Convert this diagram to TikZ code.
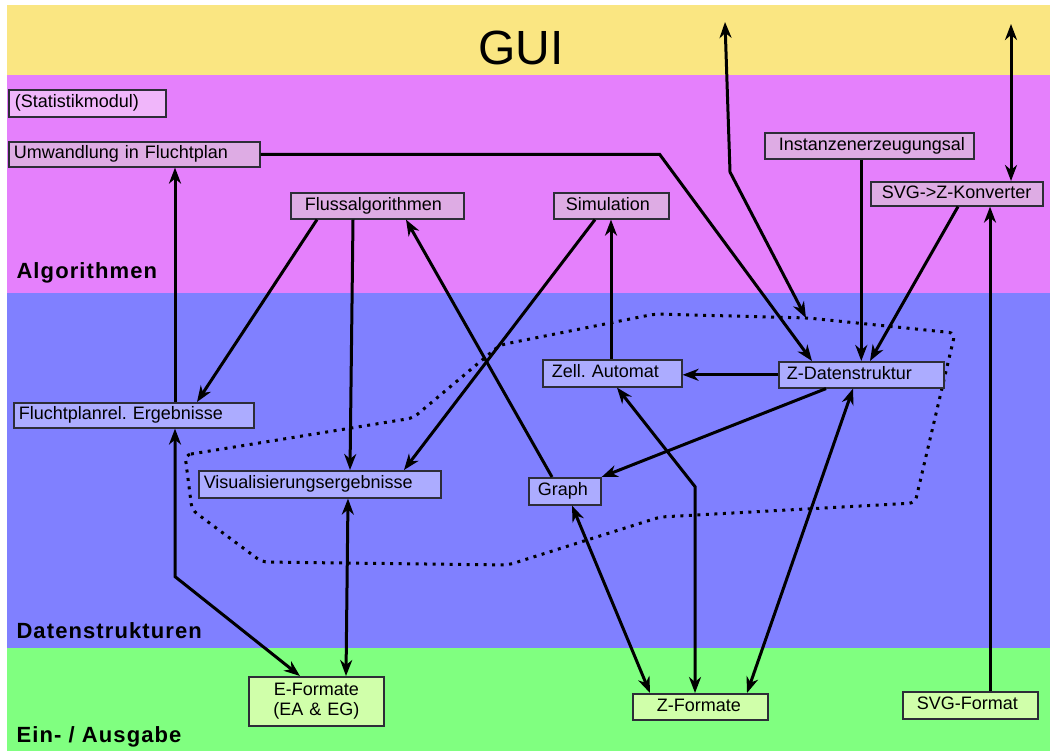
\documentclass[tikz,border=0pt]{standalone}
\usepackage{fontspec}
\setmainfont{Liberation Sans}
\usepackage{tikz}
\usetikzlibrary{arrows.meta}
\frenchspacing

\definecolor{guiyellow}{RGB}{250,230,130}
\definecolor{algpink}{RGB}{229,128,252}
\definecolor{dsblue}{RGB}{128,128,255}
\definecolor{iogreen}{RGB}{128,255,128}
\definecolor{pinkfill}{RGB}{222,172,228}
\definecolor{statfill}{RGB}{240,182,250}
\definecolor{bluefill}{RGB}{172,172,255}
\definecolor{greenfill}{RGB}{208,255,170}
\definecolor{boxline}{RGB}{45,45,55}

\begin{document}
\begin{tikzpicture}[x=1pt,y=-1pt,>={Stealth[length=16pt,width=12pt,inset=5pt]},
  box/.style={draw=boxline,line width=1.6pt,anchor=north west,inner ysep=0pt,
    font=\fontsize{18}{20}\selectfont},
  sline/.style={align=left,text height=13pt,text depth=4pt},
  pbox/.style={box,sline,fill=pinkfill},
  bbox/.style={box,sline,fill=bluefill},
  gbox/.style={box,sline,fill=greenfill},
  conn/.style={line width=3pt},
  layer/.style={font=\fontsize{22}{24}\selectfont\bfseries\addfontfeatures{LetterSpace=5},anchor=west},
  region/.style={line width=3pt,dash pattern=on 3pt off 5.5pt,rounded corners=6pt}]
  \useasboundingbox (0,0) rectangle (1054,751);
  \fill[white] (0,0) rectangle (1054,751);
  % layers
  \fill[guiyellow] (7,5) rectangle (1050,75);
  \fill[algpink] (7,75) rectangle (1050,293);
  \fill[dsblue] (7,293) rectangle (1050,648);
  \fill[iogreen] (7,648) rectangle (1050,751);
  \node[font=\fontsize{48}{50}\selectfont] (gui) at (521,48) {GUI};
  \node[layer] (alg) at (13,273) {Algorithmen};
  \node[layer] (dat) at (13,631) {Datenstrukturen};
  \node[layer] (eio) at (13,737) {Ein- / Ausgabe};
  % data structure region
  \draw[region] (185,455) -- (413,418) -- (500,345) -- (655,314) -- (808,318) -- (955,333)
    -- (915,503) -- (660,517) -- (508,565) -- (262,562) -- (192,510) -- cycle;
  % boxes
  \node[pbox,fill=statfill,text width=145pt,inner xsep=6pt,minimum height=27pt] (stat) at (8,89) {(Statistikmodul)};
  \node[pbox,text width=241pt,inner xsep=5pt,minimum height=25pt] (umw) at (8,141) {Umwandlung in Fluchtplan};
  \node[pbox,text width=145pt,inner xsep=14pt,minimum height=26pt] (fluss) at (290,192) {Flussalgorithmen};
  \node[pbox,text width=91pt,inner xsep=12pt,minimum height=26pt] (sim) at (553,192) {Simulation};
  \node[pbox,text width=181pt,inner xsep=14pt,minimum height=26pt] (inst) at (764,132) {Instanzenerzeugungsal};
  \node[pbox,text width=150pt,inner xsep=11pt,minimum height=24pt] (svgk) at (870,181) {\mbox{SVG->Z-Konverter}};
  \node[bbox,text width=230pt,inner xsep=5pt,minimum height=25pt] (fre) at (13,402) {Fluchtplanrel. Ergebnisse};
  \node[bbox,text width=232pt,inner xsep=5pt,minimum height=27pt] (vis) at (198,470) {Visualisierungsergebnisse};
  \node[bbox,text width=121pt,inner xsep=9pt,minimum height=27pt] (zell) at (542,359) {Zell. Automat};
  \node[bbox,text width=149pt,inner xsep=8pt,minimum height=26pt] (zdat) at (778,361) {Z-Datenstruktur};
  \node[bbox,text width=54pt,inner xsep=9pt,minimum height=27pt] (graph) at (528,477) {Graph};
  \node[box,fill=greenfill,align=center,text width=123pt,inner xsep=6pt,minimum height=49pt] (efmt) at (248,676) {E-Formate\\(EA \& EG)};
  \node[gbox,text width=87pt,inner xsep=24pt,minimum height=26pt] (zfmt) at (632,693) {Z-Formate};
  \node[gbox,text width=107pt,inner xsep=14pt,minimum height=27pt] (svgf) at (902,691) {SVG-Format};
  % connectors
  \coordinate (guiup) at (725,22);
  \coordinate (knick) at (730,172);
  \coordinate (dsin) at (806,318);
  \coordinate (guisvg) at (1011,24);
  \draw[conn,<->] (guiup) -- (knick) -- (dsin);
  \draw[conn,<->] (guisvg) -- (guisvg |- svgk.north);
  \draw[conn,->] (umw.east) -- ++(399,0) -- ([xshift=34pt]zdat.north west);
  \draw[conn,->] (inst.south -| zdat.north) -- (zdat.north);
  \draw[conn,->] ([xshift=88pt]svgk.south west) -- ([xshift=92pt]zdat.north west);
  \draw[conn,->] ([xshift=88pt]svgf.north west) -- ([xshift=88pt]svgf.north west |- svgk.south);
  \draw[conn,->] ([xshift=27pt]fluss.south west) -- ([xshift=184pt]fre.north west);
  \draw[conn,->] ([xshift=63pt]fluss.south west) -- ([xshift=152pt]vis.north west);
  \draw[conn,->] ([xshift=24pt]graph.north west) -- ([xshift=116pt]fluss.south west);
  \draw[conn,->] ([xshift=42pt]sim.south west) -- ([xshift=206pt]vis.north west);
  \draw[conn,->] ([xshift=69pt]zell.north west) -- ([xshift=69pt]zell.north west |- sim.south);
  \draw[conn,->] (zdat.west) -- (zdat.west -| zell.east);
  \draw[conn,->] ([xshift=48pt]zdat.south west) -- (graph.north east);
  \draw[conn,->] ([xshift=162pt]fre.north west) -- ([xshift=162pt]fre.north west |- umw.south);
  \draw[conn,<->] ([xshift=162pt]fre.south west) -- ++(0,148) -- ([xshift=52pt]efmt.north west);
  \draw[conn,<->] ([xshift=150pt]vis.south west) -- ([xshift=98pt]efmt.north west);
  \draw[conn,<->] ([xshift=44pt]graph.south west) -- ([xshift=18pt]zfmt.north west);
  \draw[conn,<->] ([xshift=75pt]zell.south west) -- ++(78,99) -- ([xshift=63pt]zfmt.north west);
  \draw[conn,<->] ([xshift=75pt]zdat.south west) -- ([xshift=115pt]zfmt.north west);
\end{tikzpicture}
\end{document}
